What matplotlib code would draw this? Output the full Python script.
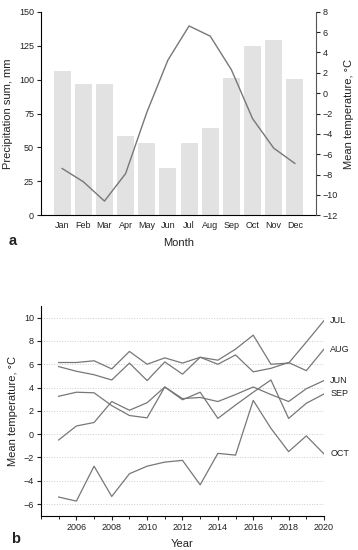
import numpy as np
import matplotlib
matplotlib.use('Agg')
from matplotlib import pyplot as plt
from matplotlib.ticker import MultipleLocator

plt.rcParams['font.family'] = ['Liberation Sans', 'DejaVu Sans']

# Panel a: monthly climatology
months = ['Jan', 'Feb', 'Mar', 'Apr', 'May', 'Jun', 'Jul', 'Aug', 'Sep', 'Oct', 'Nov', 'Dec']
precip = [106, 97, 97, 58.5, 53.5, 35, 53.5, 64.5, 101.5, 124.5, 129, 100.5]
temp_month = [-7.4, -8.7, -10.6, -7.9, -1.9, 3.25, 6.6, 5.6, 2.3, -2.5, -5.4, -6.9]

# Panel b: yearly mean temperature per month
years = list(range(2005, 2021))
jul = [6.15, 6.15, 6.3, 5.6, 7.1, 6.0, 6.55, 6.1, 6.6, 6.35, 7.3, 8.5, 6.0, 6.1, 7.9, 9.75]
aug = [5.8, 5.4, 5.1, 4.65, 6.1, 4.6, 6.2, 5.15, 6.6, 6.0, 6.8, 5.35, 5.65, 6.15, 5.45, 7.3]
jun = [3.25, 3.6, 3.55, 2.45, 1.6, 1.4, 4.05, 3.05, 3.15, 2.8, 3.4, 4.05, 3.4, 2.8, 3.9, 4.6]
sep = [-0.5, 0.7, 1.0, 2.8, 2.05, 2.7, 4.05, 2.95, 3.6, 1.35, 2.5, 3.6, 4.65, 1.35, 2.65, 3.45]
oct_ = [-5.4, -5.75, -2.75, -5.35, -3.4, -2.75, -2.4, -2.25, -4.35, -1.65, -1.8, 2.9, 0.5, -1.5, -0.15, -1.7]
series_names = ['JUL', 'AUG', 'JUN', 'SEP', 'OCT']

bar_col = '#e2e2e2'
line_col = '#777777'
txt_col = '#222222'
tick_fs = 6.5
lab_fs = 8

fig = plt.figure()
fig.set_size_inches(3.58, 5.50)

# ---- panel a
ax1 = fig.add_axes([0.1145, 0.6085, 0.7682, 0.3702])
x = np.arange(len(months))
ax1.bar(x, precip, width=0.8, color=bar_col, zorder=1)
ax1.set_xlim(-1, 12)
ax1.set_ylim(0, 150)
ax1.yaxis.set_major_locator(MultipleLocator(25))
ax1.set_xticks(x)
ax1.set_xticklabels(months)
ax1.tick_params(axis='x', length=0, labelsize=tick_fs, pad=4, colors=txt_col)
ax1.tick_params(axis='y', length=3, width=0.8, labelsize=tick_fs, pad=2, colors=txt_col)
ax1.spines['top'].set_visible(False)
ax1.spines['right'].set_visible(False)
ax1.set_ylabel('Precipitation sum, mm', fontsize=lab_fs, color=txt_col, labelpad=4)
ax1.set_xlabel('Month', fontsize=lab_fs, color=txt_col, labelpad=6)

ax2 = ax1.twinx()
ax2.plot(x, temp_month, color=line_col, lw=1.0, zorder=3)
ax2.set_ylim(-12, 8)
ax2.yaxis.set_major_locator(MultipleLocator(2))
ax2.tick_params(axis='y', length=3, width=0.8, labelsize=tick_fs, pad=2, colors=txt_col)
ax2.spines['top'].set_visible(False)
ax2.spines['left'].set_visible(False)
ax2.spines['bottom'].set_visible(False)
ax2.spines['right'].set_color('#555555')
ax2.set_ylabel('Mean temperature, °C', fontsize=lab_fs, color=txt_col, labelpad=4)

fig.text(0.025, 0.555, 'a', fontsize=10.5, fontweight='bold', color=txt_col)

# ---- panel b
ax3 = fig.add_axes([0.1145, 0.0624, 0.7905, 0.3812])
for vals in [jul, aug, jun, sep, oct_]:
    ax3.plot(years, vals, color=line_col, lw=0.9)
for name, vals in zip(series_names, [jul, aug, jun, sep, oct_]):
    ax3.text(years[-1] + 0.35, vals[-1], name, fontsize=tick_fs, color=txt_col,
             va='center', ha='left', clip_on=False)
ax3.set_xlim(2004, 2020)
ax3.set_ylim(-7, 11)
ax3.set_xticks(range(2006, 2021, 2))
ax3.xaxis.set_minor_locator(MultipleLocator(1))
ax3.set_yticks(range(-6, 11, 2))
ax3.grid(axis='y', color='#cccccc', linestyle=':', linewidth=0.7)
ax3.set_axisbelow(True)
ax3.tick_params(axis='both', which='major', length=3, width=0.8, labelsize=tick_fs, pad=2, colors=txt_col)
ax3.tick_params(axis='x', which='minor', length=2, width=0.6)
ax3.spines['top'].set_visible(False)
ax3.spines['right'].set_visible(False)
ax3.set_ylabel('Mean temperature, °C', fontsize=lab_fs, color=txt_col, labelpad=4)
ax3.set_xlabel('Year', fontsize=lab_fs, color=txt_col, labelpad=5)

fig.text(0.03, 0.012, 'b', fontsize=10.5, fontweight='bold', color=txt_col)

plt.savefig('out.png', dpi=100)
